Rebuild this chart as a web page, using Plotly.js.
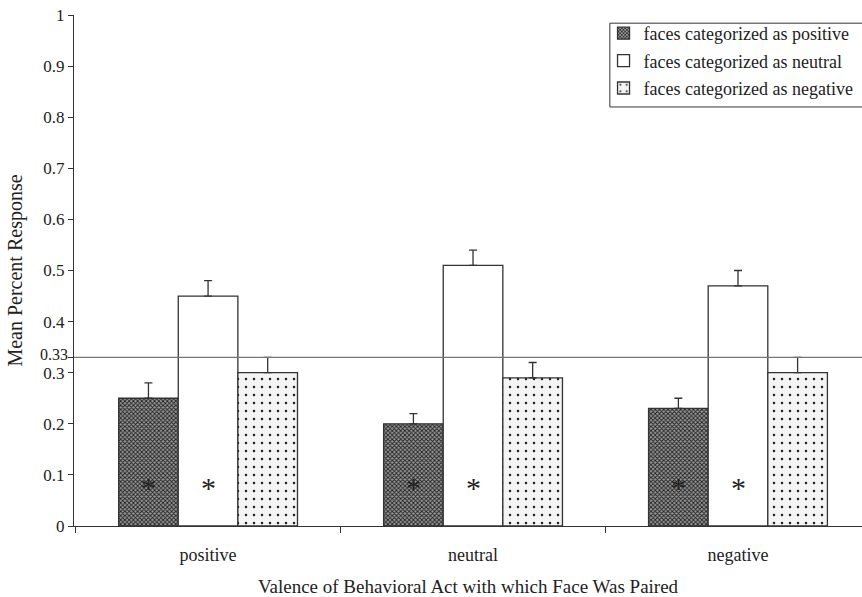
<!DOCTYPE html>
<html><head><meta charset="utf-8">
<script src="https://cdn.plot.ly/plotly-3.0.1.min.js"></script>
<style>html,body{margin:0;padding:0;background:#fff}#chart{width:862px;height:597px}</style>
</head><body><div id="chart"></div>
<script>
const categories = ["positive", "neutral", "negative"];
const seriesNames = ["faces categorized as positive", "faces categorized as neutral", "faces categorized as negative"];
const posValues = [0.25, 0.20, 0.23];
const neuValues = [0.45, 0.51, 0.47];
const negValues = [0.30, 0.29, 0.30];
const posErr = [0.03, 0.02, 0.02];
const neuErr = [0.03, 0.03, 0.03];
const negErr = [0.03, 0.03, 0.03];
const chanceLevel = 0.33;
const chanceLabel = "0.33";
const yTickVals = [0, 0.1, 0.2, 0.3, 0.4, 0.5, 0.6, 0.7, 0.8, 0.9, 1, 0.33];
const yTickText = ["0", "0.1", "0.2", "0.3", "0.4", "0.5", "0.6", "0.7", "0.8", "0.9", "1", ""];
const starMarks = [[0, 0], [0, 1], [1, 0], [1, 1], [2, 0], [2, 1]]; // [category, series]
const starY = 0.076;

const serif = "Liberation Serif, Times New Roman, serif";
const errStyle = (arr) => ({type: 'data', array: arr, arrayminus: arr.map(() => 0), symmetric: false, color: '#333', thickness: 1.3, width: 4});
const traces = [
  {type: 'bar', name: seriesNames[0], legendgroup: 'a', x: categories, y: posValues, error_y: errStyle(posErr),
   marker: {color: '#555', line: {color: '#333', width: 1.3}, pattern: {shape: 'x', size: 3, solidity: 0.5, fgcolor: '#222', bgcolor: '#999', fillmode: 'replace'}}},
  {type: 'bar', name: seriesNames[1], legendgroup: 'b', x: categories, y: neuValues, error_y: errStyle(neuErr),
   marker: {color: '#fff', line: {color: '#333', width: 1.3}}},
  {type: 'bar', name: seriesNames[2], legendgroup: 'c', x: categories, y: negValues, error_y: errStyle(negErr),
   marker: {color: '#f4f4f4', line: {color: '#333', width: 1.3}, pattern: {shape: '.', size: 8, solidity: 0.08, fgcolor: '#222', bgcolor: '#f4f4f4', fillmode: 'replace'}}}
];
const offsets = [-0.225, 0, 0.225];
const annotations = starMarks.map(([c, s]) => ({x: c + offsets[s], y: starY, xref: 'x', yref: 'y', text: '*', showarrow: false, font: {family: serif, size: 30, color: '#222'}, yanchor: 'middle'}));
annotations.push({x: 0, xref: 'paper', xanchor: 'right', xshift: -4, y: chanceLevel, yref: 'y', yanchor: 'middle', yshift: 3, text: chanceLabel, showarrow: false, font: {family: serif, size: 16, color: '#222'}});

const layout = {
  width: 862, height: 597,
  margin: {l: 74, r: 0, t: 15, b: 71},
  paper_bgcolor: '#fff', plot_bgcolor: '#fff',
  font: {family: serif, size: 18, color: '#222'},
  barmode: 'group', bargap: 0.325, bargroupgap: 0,
  showlegend: true,
  legend: {x: 0.672, y: 1.0, xanchor: 'left', yanchor: 'top', borderwidth: 0, bgcolor: 'rgba(0,0,0,0)', font: {family: serif, size: 18, color: '#222'}, itemwidth: 30, traceorder: 'grouped', tracegroupgap: 1},
  xaxis: {type: 'category', range: [-0.506, 2.468], showline: true, linecolor: '#333', linewidth: 1, ticks: 'outside', tickson: 'boundaries', ticklen: 6, tickcolor: '#333', showgrid: false, zeroline: false,
    tickfont: {family: serif, size: 18, color: '#222'}, ticklabelstandoff: 12,
    title: {text: 'Valence of Behavioral Act with which Face Was Paired', font: {family: serif, size: 19, color: '#222'}, standoff: 18}},
  yaxis: {range: [0, 1], tickvals: yTickVals, ticktext: yTickText, showline: true, linecolor: '#333', linewidth: 1, ticks: 'outside', ticklen: 5, tickcolor: '#333', showgrid: false, zeroline: false,
    tickfont: {family: serif, size: 17, color: '#222'},
    title: {text: 'Mean Percent Response', font: {family: serif, size: 20, color: '#222'}, standoff: 15}},
  shapes: [
    {type: 'line', xref: 'paper', x0: 0, x1: 1, yref: 'y', y0: chanceLevel, y1: chanceLevel, line: {color: '#777', width: 1.3}},
    {type: 'rect', xref: 'paper', x0: 0.680, x1: 1.02, yref: 'paper', y0: 0.82, y1: 0.984, line: {color: '#333', width: 1}, fillcolor: 'rgba(0,0,0,0)'}
  ],
  annotations: annotations
};
Plotly.newPlot('chart', traces, layout, {displayModeBar: false, staticPlot: true});
</script></body></html>
